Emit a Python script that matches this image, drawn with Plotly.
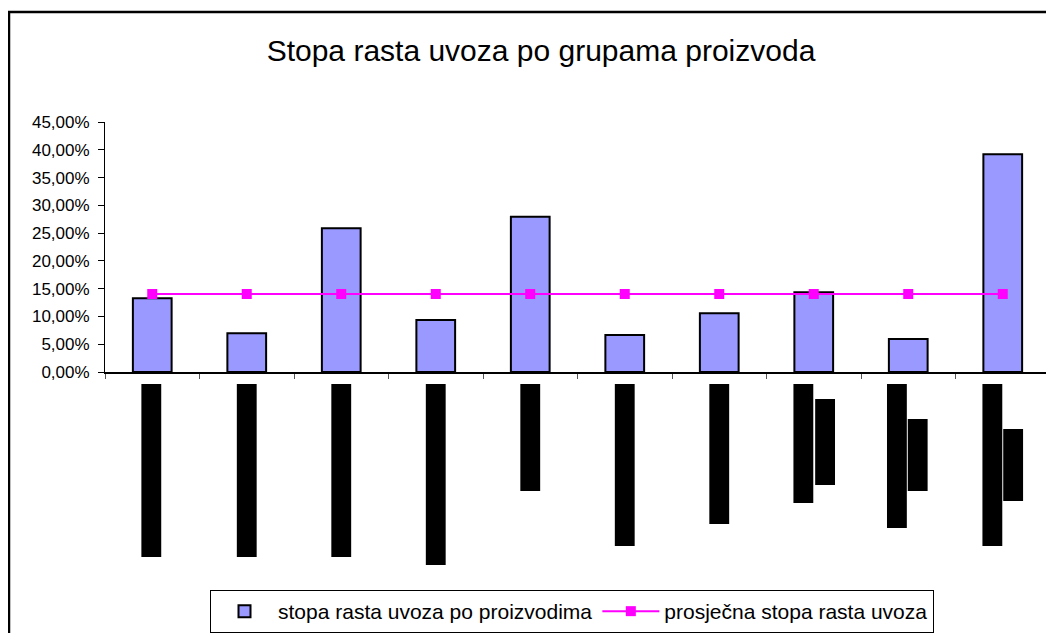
import plotly.graph_objects as go

# ---- data ----
categories = list(range(10))  # category labels are redacted in the reference
growth_by_product = [0.1327, 0.0696, 0.2586, 0.0936, 0.2796, 0.0666, 0.1056, 0.1434, 0.0594, 0.3918]
average_growth = [0.1404] * 10
series_names = ["stopa rasta uvoza po proizvodima", "prosječna stopa rasta uvoza"]
title_text = "Stopa rasta uvoza po grupama proizvoda"

# redaction blocks covering the (rotated) category labels:
# (category index, offset in category units, top px, bottom px) in screen pixels
redaction_blocks = [
    (0, -0.01, 384, 557), (1, 0.0, 384, 557), (2, 0.0, 384, 557), (3, 0.0, 384, 565),
    (4, 0.0, 384, 491), (5, 0.0, 384, 546), (6, 0.0, 384, 524),
    (7, -0.11, 384, 503), (7, 0.12, 399, 485),
    (8, -0.12, 384, 528), (8, 0.10, 419, 491),
    (9, -0.11, 384, 546), (9, 0.11, 429, 501),
]

PAGE_OFF = 8  # default body margin of the html page
W, H = 1054 - PAGE_OFF, 633 - PAGE_OFF
PLOT_LEFT, PLOT_RIGHT, PLOT_TOP, PLOT_BOTTOM = 105, 1050, 122, 372  # screen px
L = PLOT_LEFT - PAGE_OFF
T = PLOT_TOP - PAGE_OFF
plot_w = PLOT_RIGHT - PLOT_LEFT
plot_h = PLOT_BOTTOM - PLOT_TOP
R = W - L - plot_w
B = H - T - plot_h
FONT = "Liberation Sans, Arial, sans-serif"


def py(px):
    return (PLOT_BOTTOM - px) / plot_h


def pxx(px):
    return (px - PLOT_LEFT) / plot_w


fig = go.Figure()
fig.add_trace(go.Bar(
    x=categories, y=growth_by_product, name=series_names[0],
    width=0.41,
    marker=dict(color="#9999FF", line=dict(color="black", width=2)),
))
fig.add_trace(go.Scatter(
    x=categories, y=average_growth, name=series_names[1],
    mode="lines+markers",
    line=dict(color="#FF00FF", width=2),
    marker=dict(symbol="square", size=10, color="#FF00FF"),
))

shapes = []
for ci, off, top, bot in redaction_blocks:
    shapes.append(dict(
        type="rect", xref="x", yref="paper",
        x0=ci + off - 0.105, x1=ci + off + 0.105,
        y0=py(bot), y1=py(top),
        fillcolor="black", line=dict(width=0), layer="above",
    ))
# outer chart border
shapes.append(dict(
    type="rect", xref="paper", yref="paper",
    x0=pxx(9), x1=pxx(1070), y0=py(660), y1=py(12),
    line=dict(color="black", width=2.5), fillcolor="rgba(0,0,0,0)",
))

fig.update_layout(
    width=W, height=H,
    margin=dict(l=L, r=R, t=T, b=B, autoexpand=False),
    paper_bgcolor="white", plot_bgcolor="white",
    separators=",.",
    font=dict(family=FONT, color="black"),
    title=dict(text=title_text, x=(541 - PAGE_OFF) / W, xref="container", xanchor="center",
               y=1 - (50 - PAGE_OFF) / H, yref="container", yanchor="middle",
               font=dict(size=30, family=FONT, color="black")),
    showlegend=True,
    legend=dict(orientation="h", x=pxx(210), xanchor="left", y=py(590), yanchor="top",
                bordercolor="black", borderwidth=1, bgcolor="white",
                font=dict(size=21, family=FONT, color="black"),
                itemwidth=57, tracegroupgap=0),
    xaxis=dict(range=[-0.5, 9.5], showline=True, linecolor="black", linewidth=1.5,
               tickmode="array", tickvals=[i - 0.5 for i in range(11)],
               ticks="outside", ticklen=5, tickcolor="#555555", tickwidth=1,
               showticklabels=False, showgrid=False, zeroline=False, fixedrange=True),
    yaxis=dict(range=[0, 0.45], dtick=0.05, tick0=0, tickformat=".2%",
               showline=True, linecolor="black", linewidth=1,
               ticks="outside", ticklen=6, tickcolor="black",
               ticklabelstandoff=5,
               tickfont=dict(size=17, family=FONT, color="black"),
               showgrid=False, zeroline=False, fixedrange=True),
    shapes=shapes,
)

fig.write_html("out.html")
